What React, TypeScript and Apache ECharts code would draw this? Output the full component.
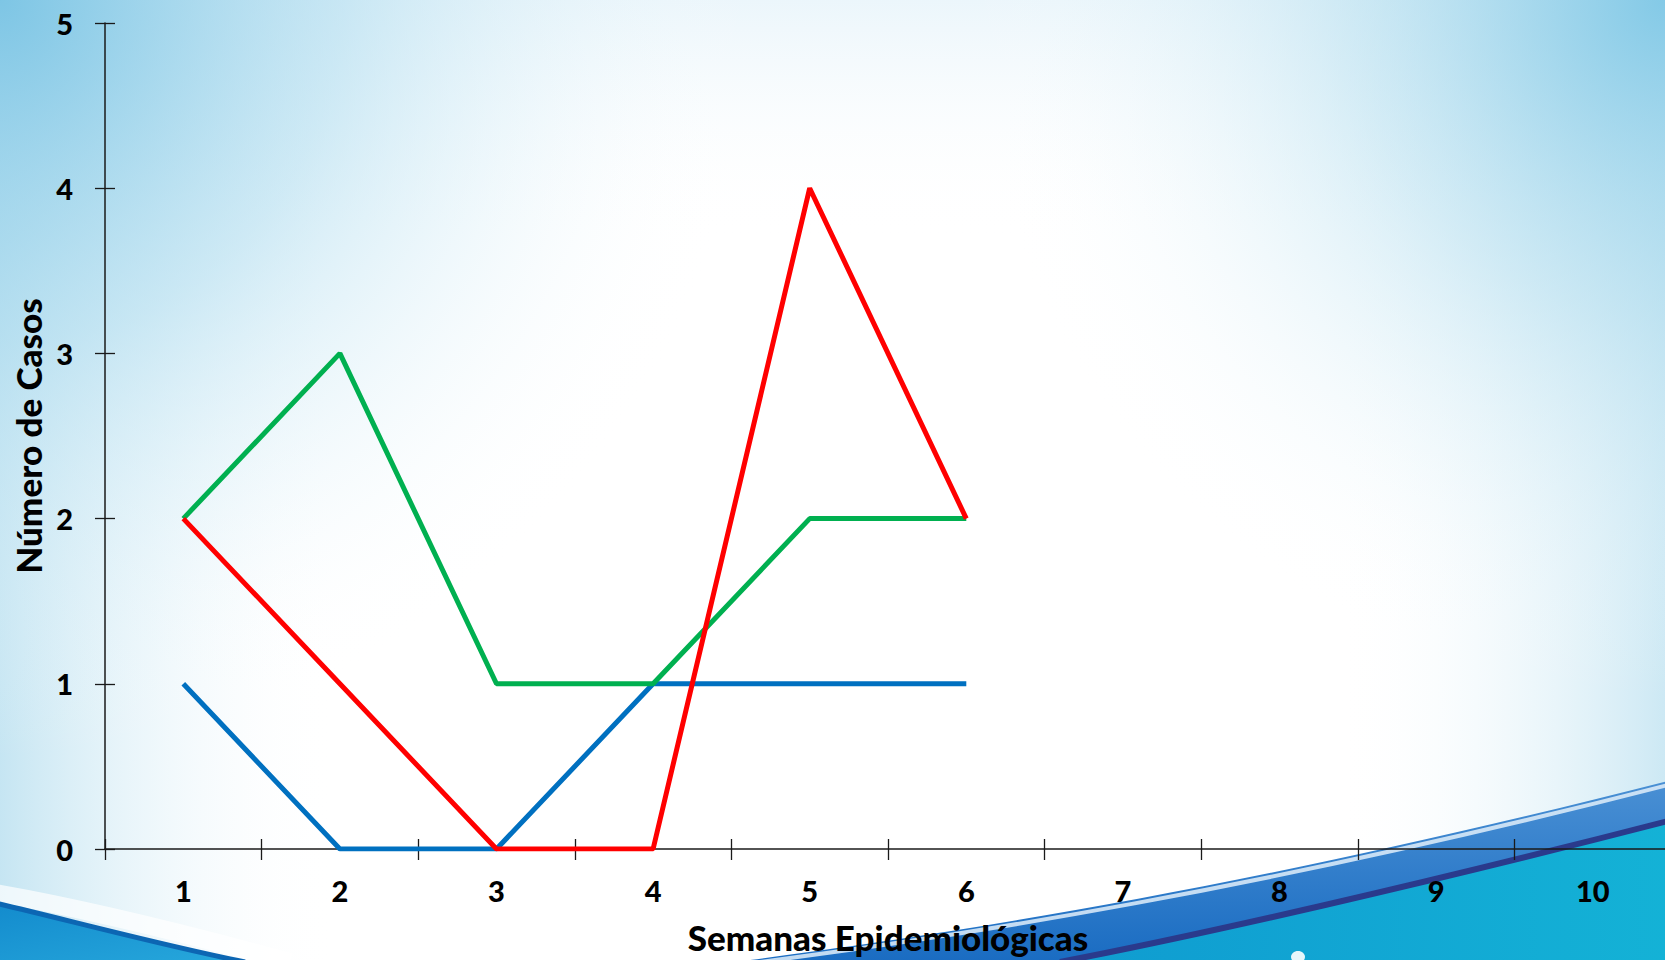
import React, { useEffect, useRef } from "react";
import * as echarts from "echarts";

// ---- data ----
const weeks = ["1", "2", "3", "4", "5", "6", "7", "8", "9", "10"];
const blueSeries = [1, 0, 0, 1, 1, 1];
const redSeries = [2, 1, 0, 0, 4, 2];
const greenSeries = [2, 3, 1, 1, 2, 2];
const yMin = 0;
const yMax = 5;
const yStep = 1;
const xAxisTitle = "Semanas Epidemiológicas";
const yAxisTitle = "Número de Casos";

const FONT = "Lato, 'Open Sans', sans-serif";

// ---- decorative background shapes (slide template) ----
const shapePaths: Record<string, string> = {
  bgWaveBlue: "M 735 962 C 950 934 1250 888 1672 780 L 1672 962 Z",
  bgWaveTopLine: "M 760 962 C 960 936 1255 891 1672 784",
  bgWaveCyan: "M 1060 962 C 1200 935 1420 885 1672 820 L 1672 962 Z",
  bgWaveNavyLine: "M 1060 962 C 1200 935 1420 885 1672 820",
  bgSwoosh: "M -5 903 C 60 918 160 945 245 962 L -5 962 Z",
  bgSwooshLine: "M -5 903 C 60 918 160 945 245 962",
  bgSwooshGlow: "M -5 893 C 70 906 180 932 290 962",
};
let registered = false;
function registerShapes() {
  if (registered) return;
  registered = true;
  Object.keys(shapePaths).forEach((k) => {
    echarts.graphic.registerShape(k, echarts.graphic.extendPath(shapePaths[k], {}) as any);
  });
}

export default function App() {
  const ref = useRef<HTMLDivElement>(null);
  useEffect(() => {
    if (!ref.current) return;
    document.body.style.overflow = "hidden";
    registerShapes();
    const chart = echarts.init(ref.current, null, { renderer: "svg" });
    const axisColor = "#1a1a1a";
    const labelStyle = {
      fontSize: 29,
      fontWeight: 900,
      color: "#000",
      fontFamily: FONT,
    };
    const nameStyle = {
      fontSize: 35,
      fontWeight: 900,
      color: "#000",
      fontFamily: FONT,
    };
    const bgEl = (type: string, style: any, z = -10) => ({
      type,
      x: 0,
      y: 0,
      silent: true,
      z,
      style,
    });
    chart.setOption({
      animation: false,
      backgroundColor: "#ffffff",
      graphic: [
        {
          type: "rect",
          silent: true,
          z: -20,
          shape: { x: 0, y: 0, width: 1672, height: 960 },
          style: {
            fill: {
              type: "linear",
              x: 0,
              y: 0,
              x2: 1,
              y2: 0,
              colorStops: [
                { offset: 0, color: "rgba(150,208,232,0.55)" },
                { offset: 0.2, color: "rgba(255,255,255,0)" },
                { offset: 0.8, color: "rgba(255,255,255,0)" },
                { offset: 1, color: "rgba(150,208,232,0.5)" },
              ],
            },
          },
        },
        {
          type: "rect",
          silent: true,
          z: -20,
          shape: { x: 0, y: 0, width: 1672, height: 960 },
          style: {
            fill: {
              type: "linear",
              x: 0,
              y: 0,
              x2: 0,
              y2: 1,
              colorStops: [
                { offset: 0, color: "rgba(190,225,242,0.3)" },
                { offset: 0.25, color: "rgba(255,255,255,0)" },
                { offset: 1, color: "rgba(255,255,255,0)" },
              ],
            },
          },
        },
        {
          type: "rect",
          silent: true,
          z: -19,
          shape: { x: 0, y: 0, width: 1672, height: 960 },
          style: {
            fill: {
              type: "radial",
              x: 0,
              y: 0,
              r: 760,
              global: true,
              colorStops: [
                { offset: 0, color: "rgba(122,196,228,0.95)" },
                { offset: 0.45, color: "rgba(170,218,238,0.55)" },
                { offset: 1, color: "rgba(255,255,255,0)" },
              ],
            },
          },
        },
        {
          type: "rect",
          silent: true,
          z: -19,
          shape: { x: 0, y: 0, width: 1672, height: 960 },
          style: {
            fill: {
              type: "radial",
              x: 1665,
              y: 0,
              r: 700,
              global: true,
              colorStops: [
                { offset: 0, color: "rgba(128,200,230,0.95)" },
                { offset: 0.45, color: "rgba(175,220,238,0.5)" },
                { offset: 1, color: "rgba(255,255,255,0)" },
              ],
            },
          },
        },
        bgEl("bgSwooshGlow", { fill: "none", stroke: "rgba(255,255,255,0.7)", lineWidth: 18 }, -9),
        bgEl("bgSwoosh", {
          fill: {
            type: "linear",
            x: 0,
            y: 0,
            x2: 1,
            y2: 1,
            colorStops: [
              { offset: 0, color: "#138bcd" },
              { offset: 1, color: "#27a8dc" },
            ],
          },
        }, -8),
        bgEl("bgSwooshLine", { fill: "none", stroke: "#0c66b3", lineWidth: 5 }, -7),
        bgEl("bgWaveBlue", {
          fill: {
            type: "linear",
            x: 0,
            y: 0,
            x2: 0,
            y2: 1,
            colorStops: [
              { offset: 0, color: "#4a90d4" },
              { offset: 1, color: "#1a6cc2" },
            ],
          },
        }, -8),
        bgEl("bgWaveTopLine", { fill: "none", stroke: "rgba(225,238,250,0.85)", lineWidth: 4 }, -7),
        bgEl("bgWaveCyan", {
          fill: {
            type: "linear",
            x: 0,
            y: 0,
            x2: 1,
            y2: 0,
            colorStops: [
              { offset: 0, color: "#0f9bd0" },
              { offset: 1, color: "#14b2d6" },
            ],
          },
        }, -7),
        bgEl("bgWaveNavyLine", { fill: "none", stroke: "#2a3a8c", lineWidth: 6 }, -6),
        {
          type: "ellipse",
          silent: true,
          z: -5,
          shape: { cx: 1298, cy: 957, rx: 7, ry: 6 },
          style: { fill: "rgba(255,255,255,0.9)" },
        },
      ],
      grid: { left: 105, right: 0, top: 23, bottom: 111, containLabel: false },
      xAxis: [
        {
          type: "category",
          data: weeks,
          boundaryGap: true,
          position: "bottom",
          axisLine: { show: true, lineStyle: { color: axisColor, width: 1.5 } },
          axisTick: { show: true, length: 11, lineStyle: { color: axisColor, width: 1.3 } },
          axisLabel: { ...labelStyle, margin: 27 },
          splitLine: { show: false },
          name: xAxisTitle,
          nameLocation: "middle",
          nameGap: 70,
          nameTextStyle: nameStyle,
        },
        {
          type: "category",
          data: weeks,
          boundaryGap: true,
          position: "bottom",
          axisLine: { show: false },
          axisTick: { show: true, inside: true, length: 10, lineStyle: { color: axisColor, width: 1.3 } },
          axisLabel: { show: false },
          splitLine: { show: false },
        },
      ],
      yAxis: [
        {
          type: "value",
          min: yMin,
          max: yMax,
          interval: yStep,
          position: "left",
          axisLine: { show: true, lineStyle: { color: axisColor, width: 1.5 } },
          axisTick: { show: true, length: 10, lineStyle: { color: axisColor, width: 1.3 } },
          axisLabel: { ...labelStyle, margin: 32 },
          splitLine: { show: false },
          name: yAxisTitle,
          nameLocation: "middle",
          nameRotate: 90,
          nameGap: 58,
          nameTextStyle: nameStyle,
        },
        {
          type: "value",
          min: yMin,
          max: yMax,
          interval: yStep,
          position: "left",
          axisLine: { show: false },
          axisTick: { show: true, inside: true, length: 10, lineStyle: { color: axisColor, width: 1.3 } },
          axisLabel: { show: false },
          splitLine: { show: false },
        },
      ],
      series: [
        {
          type: "line",
          data: blueSeries,
          symbol: "none",
          lineStyle: { color: "#0070C0", width: 5 },
          itemStyle: { color: "#0070C0" },
          silent: true,
        },
        {
          type: "line",
          data: greenSeries,
          symbol: "none",
          lineStyle: { color: "#00B050", width: 5 },
          itemStyle: { color: "#00B050" },
          silent: true,
        },
        {
          type: "line",
          data: redSeries,
          symbol: "none",
          lineStyle: { color: "#FF0000", width: 5 },
          itemStyle: { color: "#FF0000" },
          silent: true,
        },
      ],
    });
    return () => chart.dispose();
  }, []);
  return (
    <div
      ref={ref}
      style={{ position: "fixed", left: 0, top: 0, width: 1671, height: 960 }}
    />
  );
}
